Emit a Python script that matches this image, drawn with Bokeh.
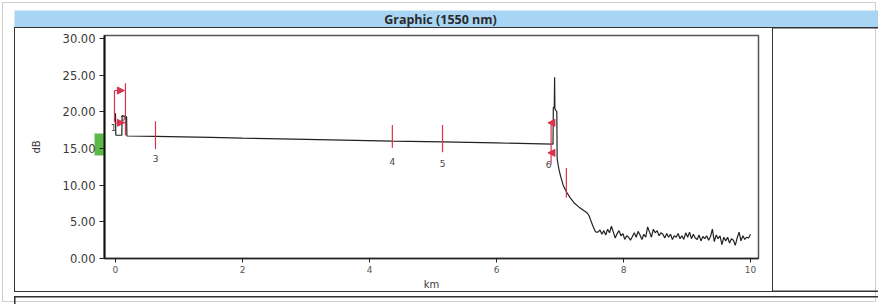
from bokeh.plotting import figure
from bokeh.layouts import column, row
from bokeh.models import (FixedTicker, PrintfTickFormatter, LinearAxis, Spacer,
                          Arrow, NormalHead, Range1d, ColumnDataSource)
from bokeh.embed import file_html
from bokeh.resources import INLINE
from bokeh.core.properties import value

title_text = "Graphic (1550 nm)"
x_label = "km"
y_label = "dB"
x_ticks = [0, 2, 4, 6, 8, 10]
y_ticks = [0, 5, 10, 15, 20, 25, 30]

# OTDR trace: launch zone, fibre slope, end reflection, decay
trace_km = [0.00, 0.005, 0.10, 0.105, 0.175, 0.18, 0.63, 1.50, 2.00, 3.00, 4.36, 5.15,
            6.00, 6.89, 6.895, 6.91, 6.915, 6.92, 6.95, 6.955, 6.98, 7.01, 7.05, 7.10,
            7.16, 7.22, 7.30, 7.38, 7.43, 7.46, 7.48, 7.52, 7.56]
trace_db = [19.8, 16.8, 16.8, 19.5, 19.3, 16.7, 16.65, 16.5, 16.4, 16.25, 16.0, 15.9,
            15.75, 15.6, 20.6, 20.6, 24.7, 20.4, 20.0, 13.6, 12.3, 11.2, 10.0, 9.1,
            8.3, 7.6, 7.0, 6.5, 6.2, 5.8, 5.3, 4.4, 3.6]
# noise floor after fibre end
noise_km = [7.60, 7.63, 7.66, 7.69, 7.72, 7.75, 7.78, 7.81, 7.84, 7.87, 7.90, 7.93, 7.96, 7.99,
            8.02, 8.05, 8.08, 8.11, 8.14, 8.17, 8.20, 8.23, 8.26, 8.29, 8.32, 8.35, 8.38, 8.41,
            8.44, 8.47, 8.50, 8.53, 8.56, 8.59, 8.62, 8.65, 8.68, 8.71, 8.74, 8.77, 8.80, 8.83,
            8.86, 8.89, 8.92, 8.95, 8.98, 9.01, 9.04, 9.07, 9.10, 9.13, 9.16, 9.19, 9.22, 9.25,
            9.28, 9.31, 9.34, 9.37, 9.40, 9.43, 9.46, 9.49, 9.52, 9.55, 9.58, 9.61, 9.64, 9.67,
            9.70, 9.73, 9.76, 9.79, 9.82, 9.85, 9.88, 9.91, 9.94, 9.97, 10.00]
noise_db = [3.6, 3.9, 3.3, 3.8, 3.2, 4.0, 3.5, 4.4, 3.6, 2.8, 3.4, 3.8, 3.1, 3.4,
            2.6, 3.1, 2.9, 2.5, 3.0, 3.5, 2.9, 3.7, 3.2, 2.6, 3.3, 2.9, 4.3, 3.6,
            2.9, 4.0, 3.5, 3.8, 3.1, 3.5, 3.3, 2.8, 3.4, 2.9, 3.3, 2.6, 3.1, 2.9,
            3.4, 2.7, 3.1, 2.6, 3.5, 2.9, 3.6, 2.7, 3.3, 2.8, 2.6, 3.2, 2.4, 3.0,
            2.7, 3.1, 2.5, 3.0, 4.0, 2.3, 3.2, 2.7, 3.1, 1.9, 2.9, 2.4, 2.9, 2.1,
            2.7, 2.5, 1.8, 2.8, 3.6, 2.4, 3.1, 2.6, 2.9, 2.8, 3.3]

# event markers (red bars)
marker_km = [-0.016, 0.157, 0.63, 4.36, 5.15, 6.86, 7.10]
marker_top = [22.9, 23.9, 18.7, 18.2, 18.2, 18.6, 12.35]
marker_bottom = [18.6, 16.8, 14.9, 15.1, 14.5, 12.8, 8.3]
label_text = ["1", "2", "3", "4", "5", "6"]
label_km = [-0.03, 0.12, 0.63, 4.36, 5.15, 6.82]
label_db = [17.9, 19.0, 13.7, 13.2, 13.0, 12.8]
# arrows
arrow_x0 = [-0.016, -0.016, 6.87, 6.87]
arrow_x1 = [0.14, 0.14, 6.81, 6.81]
arrow_db = [22.9, 18.5, 18.5, 14.4]
# green reference level on the dB axis (centre of band)
green_level = [15.6]

RED = "#d8344f"
TXT = "#3a3a3a"
PANEL = "#333333"


def blank(w, h, **kw):
    f = figure(width=w, height=h, output_backend="svg", toolbar_location=None,
               x_axis_location=None, y_axis_location=None,
               min_border=0, min_border_left=0, min_border_right=0,
               min_border_top=0, min_border_bottom=0, **kw)
    f.grid.visible = False
    f.outline_line_color = None
    return f


# --- title bar ---
tf = blank(864, 17, x_range=Range1d(14, 878), y_range=Range1d(0, 17),
           background_fill_color="#a9d5f4")
tf.text(x=[440], y=[8.5], text=[title_text], text_align="center", text_baseline="middle",
        text_font=value("Open Sans"), text_font_style="bold", text_font_size="12.5px",
        text_color="#2a2a2a")

# --- main chart ---
p = figure(width=759, height=265, output_backend="svg", toolbar_location=None,
           x_range=Range1d(-0.173, 10.126), y_range=Range1d(0, 30.4),
           y_axis_location=None,
           min_border_left=90, min_border_right=15, min_border_top=8, min_border_bottom=33,
           background_fill_color="white", border_fill_alpha=0.0,
           styles={"outline": "1.5px solid " + PANEL, "outline-offset": "-1.5px"})
p.grid.visible = False
p.outline_line_color = "#555555"
p.outline_line_width = 1.5

green_axis = LinearAxis(ticker=FixedTicker(ticks=green_level), axis_line_color=None,
                        major_tick_line_color="#5cb847", major_tick_line_width=22,
                        major_tick_in=-10, major_tick_out=0, minor_tick_line_color=None,
                        major_label_text_font_size="0px", major_label_text_alpha=0.0,
                        major_label_standoff=0, axis_label=None)
p.add_layout(green_axis, "left")
yax = LinearAxis(ticker=FixedTicker(ticks=y_ticks), formatter=PrintfTickFormatter(format="%.2f"),
                 axis_label=y_label)
p.add_layout(yax, "left")

p.line(trace_km, trace_db, line_color="#222222", line_width=1.2)
p.line(noise_km, noise_db, line_color="#222222", line_width=1.2)
p.line([trace_km[-1], noise_km[0]], [trace_db[-1], noise_db[0]], line_color="#222222", line_width=1.2)

p.segment(x0=marker_km, y0=marker_bottom, x1=marker_km, y1=marker_top, line_color=RED, line_width=1.2)
for x0, x1, yv in zip(arrow_x0, arrow_x1, arrow_db):
    p.add_layout(Arrow(x_start=x0, y_start=yv, x_end=x1, y_end=yv, line_color=RED, line_width=1.2,
                       end=NormalHead(size=7, fill_color=RED, line_color=RED)))
src = ColumnDataSource(dict(x=label_km, y=label_db, t=label_text))
p.text(x="x", y="y", text="t", source=src, text_align="center", text_baseline="middle",
       text_font=value("DejaVu Sans"), text_font_size="9px", text_color="#444444")

p.xaxis.ticker = FixedTicker(ticks=x_ticks)
p.xaxis.axis_label = x_label
for ax in (p.xaxis[0], yax):
    ax.minor_tick_line_color = None
    ax.major_tick_in = 0
    ax.major_tick_line_color = "#222222"
    ax.major_label_text_font = "DejaVu Sans"
    ax.major_label_text_color = TXT
    ax.axis_label_text_font = "DejaVu Sans"
    ax.axis_label_text_font_style = "normal"
    ax.axis_label_text_font_size = "10px"
    ax.axis_label_text_color = TXT
yax.axis_line_width = 2
yax.axis_line_color = "#111111"
p.xaxis.axis_line_width = 1.5
p.xaxis.axis_line_color = "#222222"
yax.major_tick_out = 5
p.xaxis.major_tick_out = 4
yax.major_label_text_font_size = "11.5px"
p.xaxis.major_label_text_font_size = "9px"
p.xaxis.major_label_text_color = "#555555"
yax.major_label_standoff = 4
p.xaxis.major_label_standoff = 3
yax.axis_label_standoff = 18
p.xaxis.axis_label_standoff = 3

# --- right panel and bottom strip ---
rf = blank(105, 265, background_fill_alpha=0.0, border_fill_alpha=0.0,
           styles={"box-shadow": "inset 0 1.5px 0 0 " + PANEL + ", inset 0 -1.5px 0 0 " + PANEL})
bf = blank(864, 8, background_fill_alpha=0.0, border_fill_alpha=0.0,
           styles={"box-shadow": "inset 0 1.5px 0 0 " + PANEL + ", inset 1.5px 0 0 0 " + PANEL})

layout = column(
    Spacer(width=878, height=10),
    row(Spacer(width=14, height=17), tf),
    row(Spacer(width=14, height=265), p, rf),
    Spacer(width=878, height=4),
    row(Spacer(width=14, height=8), bf),
    styles={"outline": "1px solid #cfcfcf", "outline-offset": "-3px"},
)

open("out.html", "w").write(file_html(layout, INLINE))
